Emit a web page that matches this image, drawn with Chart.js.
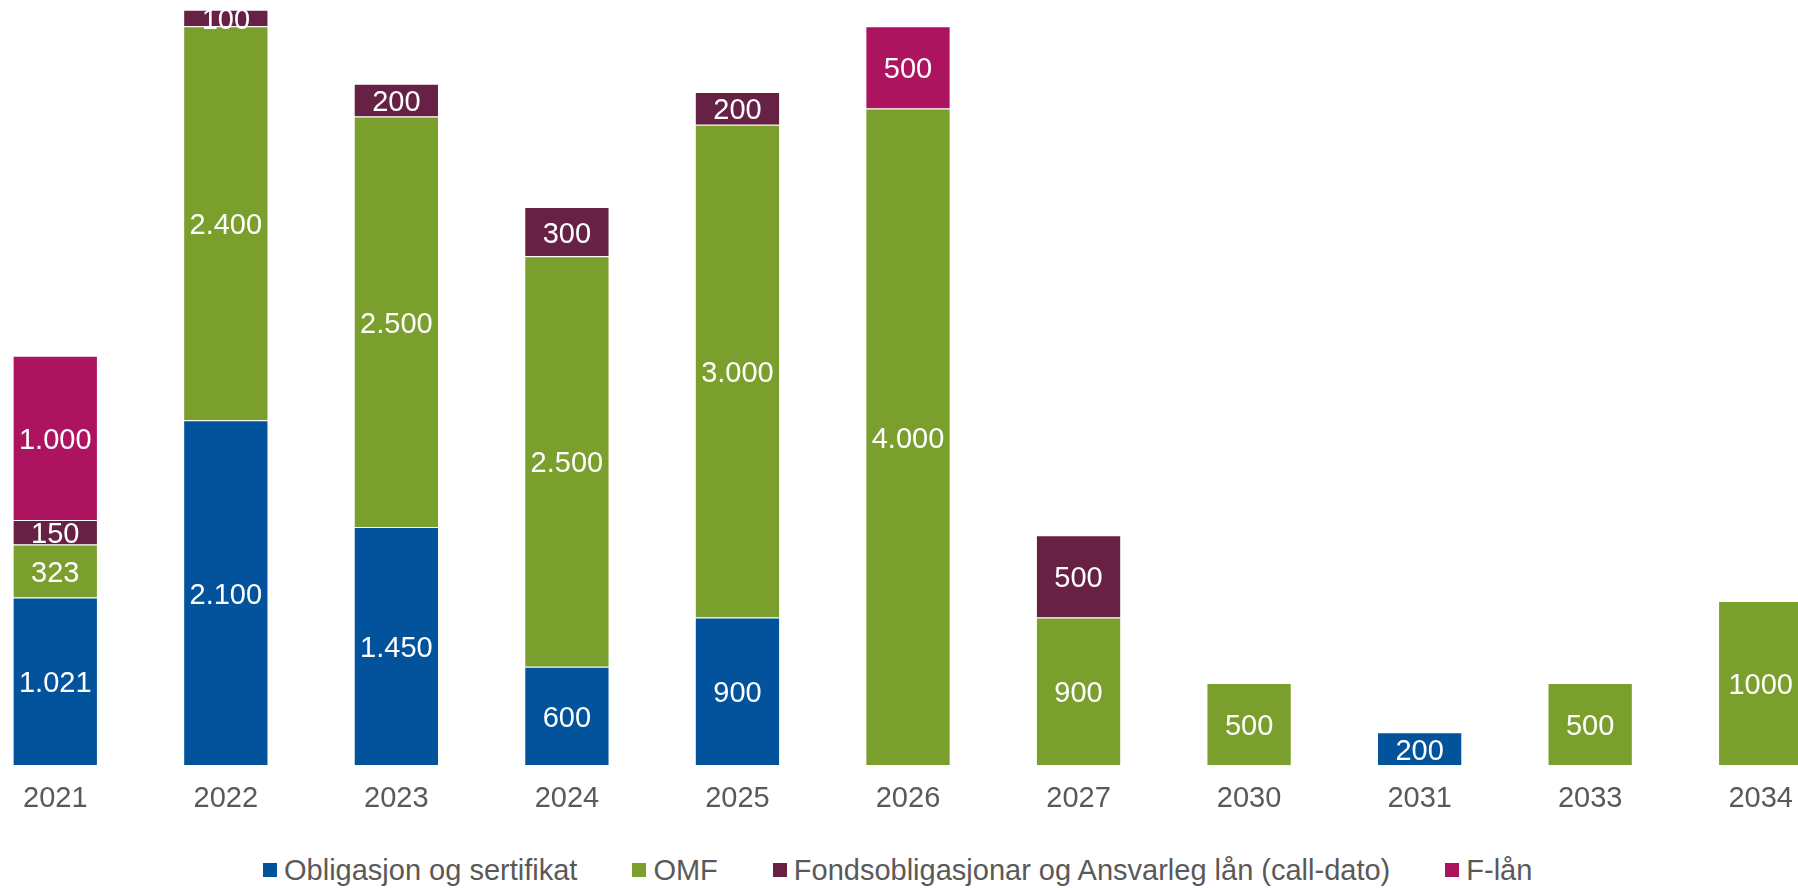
<!DOCTYPE html>
<html lang="no">
<head>
<meta charset="utf-8">
<script src="https://cdn.jsdelivr.net/npm/chart.js@4/dist/chart.umd.min.js"></script>
<style>
    html, body { margin: 0; padding: 0; background: #fff; }
    body { width: 1798px; height: 888px; overflow: hidden; position: relative; font-family: "Liberation Sans", Arial, sans-serif; }
    #chartWrap { position: absolute; left: -30px; top: 0; }
    #legend { position: absolute; left: 263px; top: 852px; display: flex; align-items: center; font-size: 29px; color: #595959; line-height: 36px; white-space: nowrap; }
    .item { display: flex; align-items: center; margin-right: 55px; }
    .item:last-child { margin-right: 0; }
    .box { width: 14px; height: 14px; margin-right: 7px; }
</style>
</head>
<body>
<div id="chartWrap"><canvas id="forfallChart" width="1876" height="832"></canvas></div>
<div id="legend"></div>
<script>
// Forfall per år (MNOK)
const years = ['2021', '2022', '2023', '2024', '2025', '2026', '2027', '2030', '2031', '2033', '2034'];
const obligasjon = [1021, 2100, 1450, 600, 900, null, null, null, 200, null, null];
const omf = [323, 2400, 2500, 2500, 3000, 4000, 900, 500, null, 500, 1000];
const fondsobligasjonar = [150, 100, 200, 300, 200, null, 500, null, null, null, null];
const flaan = [1000, null, null, null, null, 500, null, null, null, null, null];

// år der etiketten står utan tusenskiljeteikn
const utanSkilje = ['2034'];

const serieNamn = ['Obligasjon og sertifikat', 'OMF', 'Fondsobligasjonar og Ansvarleg lån (call-dato)', 'F-lån'];
const farger = ['#02529C', '#7B9F2D', '#662145', '#AD1460'];

function formaterVerdi(v, aar) {
    const s = String(v);
    if (utanSkilje.includes(aar)) return s;
    return s.replace(/\B(?=(\d{3})+(?!\d))/g, '.');
}

// Tal midt i kvart segment
const verdiEtiketter = {
    id: 'verdiEtiketter',
    afterDatasetsDraw(chart) {
        const ctx = chart.ctx;
        ctx.save();
        ctx.fillStyle = '#ffffff';
        ctx.font = '29px "Liberation Sans", Arial, sans-serif';
        ctx.textAlign = 'center';
        ctx.textBaseline = 'middle';
        chart.data.datasets.forEach((ds, i) => {
            const meta = chart.getDatasetMeta(i);
            meta.data.forEach((bar, j) => {
                const v = ds.data[j];
                if (v === null || v === undefined) return;
                const p = bar.getProps(['x', 'y', 'base'], true);
                ctx.fillText(formaterVerdi(v, years[j]), p.x, (p.y + p.base) / 2 + 3);
            });
        });
        ctx.restore();
    }
};

const dataserier = [obligasjon, omf, fondsobligasjonar, flaan].map((d, i) => ({
    label: serieNamn[i],
    data: d,
    backgroundColor: farger[i],
    borderColor: 'rgba(255, 255, 255, 0.75)',
    borderWidth: 1,
    barPercentage: 0.5,
    categoryPercentage: 1
}));

const ctx = document.getElementById('forfallChart').getContext('2d');
new Chart(ctx, {
    type: 'bar',
    data: { labels: years, datasets: dataserier },
    options: {
        responsive: false,
        animation: false,
        layout: { padding: 0 },
        plugins: {
            legend: { display: false },
            tooltip: { enabled: false }
        },
        scales: {
            x: {
                stacked: true,
                grid: { display: false, drawTicks: false },
                border: { display: false },
                ticks: {
                    color: '#595959',
                    padding: 16,
                    font: { family: '"Liberation Sans", Arial, sans-serif', size: 29 }
                }
            },
            y: {
                stacked: true,
                display: false,
                min: 0,
                max: 4660
            }
        }
    },
    plugins: [verdiEtiketter]
});

// Forklaring
const legend = document.getElementById('legend');
serieNamn.forEach((namn, i) => {
    const item = document.createElement('div');
    item.className = 'item';
    const box = document.createElement('span');
    box.className = 'box';
    box.style.background = farger[i];
    const txt = document.createElement('span');
    txt.textContent = namn;
    item.appendChild(box);
    item.appendChild(txt);
    legend.appendChild(item);
});
</script>
</body>
</html>
